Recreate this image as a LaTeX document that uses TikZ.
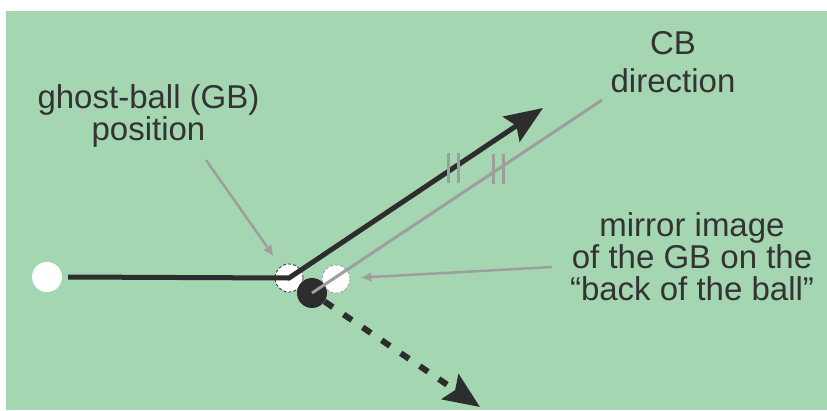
\documentclass[tikz,border=0pt]{standalone}
\usepackage{fontspec}
\setmainfont{Liberation Sans}
\usetikzlibrary{arrows.meta}
\definecolor{felt}{RGB}{165,214,178}
\definecolor{ink}{RGB}{45,45,45}
\definecolor{guide}{RGB}{158,158,158}
\definecolor{txt}{RGB}{51,51,51}

\begin{document}
\begin{tikzpicture}[x=1pt,y=-1pt,
    lbl/.style={align=center,inner sep=0pt,text=txt,font=\fontsize{33}{32}\selectfont},
    pointer/.style={guide,line width=2.5pt,-{Latex[length=11pt,width=10pt]}}]
            \useasboundingbox (0,0) rectangle (827,410);
            \fill[felt] (6,11) rectangle (827,410);
            \begin{scope}[every node/.style={circle,inner sep=0pt,minimum size=28pt}]
                \node[fill=white,minimum size=30pt] (cue) at (47,277) {};
                \node[fill=white,draw=ink,densely dashed,line width=0.8pt] (gb) at (289,278) {};
                \node[fill=white,draw=guide,densely dashed,line width=0.8pt] (mirror) at (336,279) {};
                \node[fill=ink,minimum size=30pt] (ob) at (312,293) {};
            \end{scope}
            \coordinate (cbtip) at (543,108);
            \coordinate (obtip) at (480,407);
            \coordinate (cbend) at (602,100);
            \coordinate (gbfrom) at (206,160);
            \coordinate (mirrorfrom) at (552,267);
            % object ball path
            \draw[ink,line width=6pt,dash pattern=on 10pt off 13pt,
                -{Stealth[length=36pt,width=30pt,inset=6pt]}] (ob) -- (obtip);
            % cue ball path
            \draw[ink,line width=5pt,-{Stealth[length=38pt,width=30pt,inset=6pt]}]
                ([xshift=6pt]cue.east) -- (gb.center) -- (cbtip);
            \draw[guide,line width=3pt] (ob.center) -- (cbend);
            \path (gb.center) -- (cbtip) coordinate[pos=0.646] (tick1);
            \path (ob.center) -- (cbend) coordinate[pos=0.643] (tick2);
            \foreach \t in {tick1,tick2}
                \foreach \dx in {-5,5}
                    \draw[guide,line width=3pt] ([xshift=\dx pt,yshift=15pt]\t) -- ++(0,30);
            \node[lbl] (gbtext) at (148.5,115.5) {ghost-ball (GB)\\position};
            \node[lbl] (cbtext) at (673,62) {CB\\[6pt]direction};
            \node[lbl] (mirrortext) at (692,256.5) {mirror image\\of the GB on the\\“back of the ball”};
            \draw[pointer,shorten >=12pt] (gbfrom) -- (gb);
            \draw[pointer,shorten >=10pt] (mirrorfrom) -- (mirror);
        \end{tikzpicture}
\end{document}
